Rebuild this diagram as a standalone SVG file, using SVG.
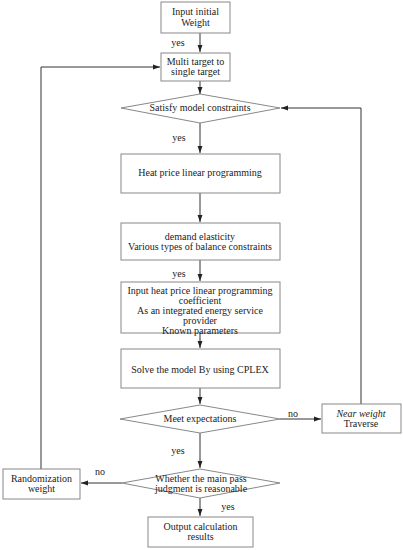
<svg xmlns="http://www.w3.org/2000/svg" width="403" height="550" viewBox="0 0 403 550">
<defs>
<marker id="ah" viewBox="0 0 10 10" refX="10" refY="5" markerWidth="7" markerHeight="7" markerUnits="userSpaceOnUse" orient="auto"><path d="M0,1.5 L10,5 L0,8.5 z" fill="#222"/></marker>
<style>
.n{fill:#fff;stroke:#888;stroke-width:1}
.t{font-family:"Liberation Serif","Times New Roman",serif;font-size:10px;fill:#222;text-anchor:middle}
.c{fill:none;stroke:#333;stroke-width:1}
</style>
</defs>
<rect width="403" height="550" fill="#fff"/>
<g id="connectors">
<path class="c" d="M200,33 V52" marker-end="url(#ah)"/>
<path class="c" d="M41,469 V67 H160" marker-end="url(#ah)"/>
<path class="c" d="M200,81 V94" marker-end="url(#ah)"/>
<path class="c" d="M200,123 V153" marker-end="url(#ah)"/>
<path class="c" d="M200,193 V222" marker-end="url(#ah)"/>
<path class="c" d="M200,260 V281" marker-end="url(#ah)"/>
<path class="c" d="M200,333 V348" marker-end="url(#ah)"/>
<path class="c" d="M200,388 V404" marker-end="url(#ah)"/>
<path class="c" d="M280,419 H321" marker-end="url(#ah)"/>
<path class="c" d="M361,404 V108 H281" marker-end="url(#ah)"/>
<path class="c" d="M200,433 V468" marker-end="url(#ah)"/>
<path class="c" d="M122,483 H81" marker-end="url(#ah)"/>
<path class="c" d="M200,498 V516" marker-end="url(#ah)"/>
<text class="t" x="178" y="46">yes</text>
<text class="t" x="179" y="141">yes</text>
<text class="t" x="179" y="277">yes</text>
<text class="t" x="293" y="417">no</text>
<text class="t" x="178" y="454">yes</text>
<text class="t" x="100" y="475">no</text>
<text class="t" x="228" y="510">yes</text>
</g>
<g id="n1"><rect class="n" x="161" y="2" width="69" height="31"/><text class="t" x="195.5" y="15">Input initial</text><text class="t" x="195.5" y="26">Weight</text></g>
<g id="n2"><rect class="n" x="161" y="53" width="69" height="28"/><text class="t" x="195.5" y="65">Multi target to</text><text class="t" x="195.5" y="75">single target</text></g>
<g id="n3"><polygon class="n" points="121,108 200,94 280,108 200,123"/><text class="t" x="200" y="111">Satisfy model constraints</text></g>
<g id="n4"><rect class="n" x="121" y="154" width="159" height="39"/><text class="t" x="200" y="176">Heat price linear programming</text></g>
<g id="n5"><rect class="n" x="121" y="223" width="159" height="37"/><text class="t" x="200" y="239.5">demand elasticity</text><text class="t" x="200" y="250">Various types of balance constraints</text></g>
<g id="n6"><rect class="n" x="121" y="282" width="159" height="51"/><text class="t" x="200" y="294">Input heat price linear programming</text><text class="t" x="200" y="304">coefficient</text><text class="t" x="200" y="314">As an integrated energy service</text><text class="t" x="200" y="324">provider</text><text class="t" x="200" y="334">Known parameters</text></g>
<g id="n7"><rect class="n" x="121" y="349" width="159" height="39"/><text class="t" x="200" y="373">Solve the model By using CPLEX</text></g>
<g id="n8"><polygon class="n" points="120,419 200,405 280,419 200,433"/><text class="t" x="200" y="422">Meet expectations</text></g>
<g id="n9"><rect class="n" x="322" y="404" width="79" height="29"/><text class="t" x="361" y="417" font-style="italic">Near weight</text><text class="t" x="361" y="427">Traverse</text></g>
<g id="n10"><polygon class="n" points="122,483 200,469 280,483 200,498"/><text class="t" x="201" y="482">Whether the main pass</text><text class="t" x="201" y="492">judgment is reasonable</text></g>
<g id="n11"><rect class="n" x="3" y="469" width="77" height="30"/><text class="t" x="41.5" y="482">Randomization</text><text class="t" x="41.5" y="492">weight</text></g>
<g id="n12"><rect class="n" x="148" y="517" width="105" height="30"/><text class="t" x="200.5" y="530">Output calculation</text><text class="t" x="200.5" y="540">results</text></g>
</svg>
